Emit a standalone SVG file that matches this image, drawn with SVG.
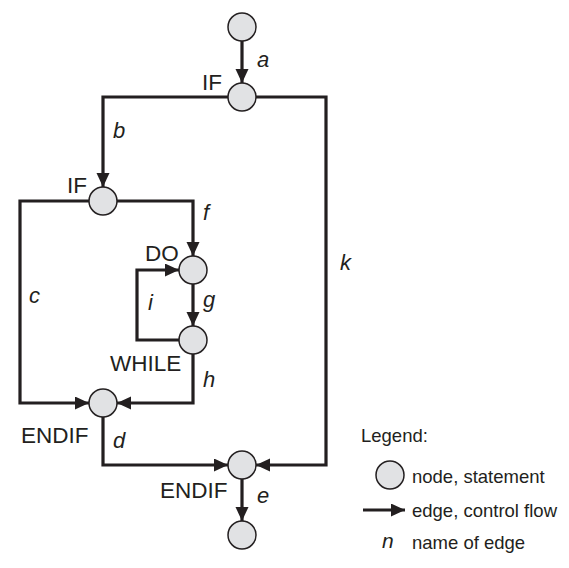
<svg xmlns="http://www.w3.org/2000/svg" width="569" height="568" viewBox="0 0 569 568">
<defs>
<marker id="ah" markerUnits="userSpaceOnUse" markerWidth="14" markerHeight="14" refX="14" refY="6.5" orient="auto">
<path d="M0,0 L14,6.5 L0,13 z" fill="#231f20"/>
</marker>
<style>
.n{fill:#e1e2e4;stroke:#231f20;stroke-width:1.5}
.e{fill:none;stroke:#231f20;stroke-width:3.2;stroke-linejoin:miter;marker-end:url(#ah)}
.t{font-family:"Liberation Sans",Arial,sans-serif;font-size:22.5px;fill:#231f20}
.l{font-family:"Liberation Sans",Arial,sans-serif;font-size:22px;font-style:italic;fill:#231f20}
.g{font-family:"Liberation Sans",Arial,sans-serif;font-size:18.5px;fill:#231f20}
</style>
</defs>
<rect width="569" height="568" fill="#fff"/>
<g id="connectors">
<path class="e" d="M242,41 L242,83"/>
<path class="e" d="M228,97 L103,97 L103,187"/>
<path class="e" d="M256,97 L326,97 L326,465 L256,465"/>
<path class="e" d="M89,201 L20,201 L20,403 L89,403"/>
<path class="e" d="M117,201 L193,201 L193,256"/>
<path class="e" d="M193,284 L193,326"/>
<path class="e" d="M179,340 L137,340 L137,270 L179,270"/>
<path class="e" d="M193,354 L193,403 L117,403"/>
<path class="e" d="M103,417 L103,465 L228,465"/>
<path class="e" d="M242,479 L242,521"/>
</g>
<g id="edge-labels">
<text class="l" x="257" y="67">a</text>
<text class="l" x="113" y="138">b</text>
<text class="l" x="29" y="303">c</text>
<text class="l" x="113" y="448">d</text>
<text class="l" x="257" y="503">e</text>
<text class="l" x="203" y="220">f</text>
<text class="l" x="203" y="307">g</text>
<text class="l" x="203" y="387">h</text>
<text class="l" x="148" y="310">i</text>
<text class="l" x="340" y="270">k</text>
</g>
<g id="node-start"><circle class="n" cx="242" cy="27" r="14"/></g>
<g id="node-if1"><circle class="n" cx="242" cy="97" r="14"/><text class="t" x="202" y="90">IF</text></g>
<g id="node-if2"><circle class="n" cx="103" cy="201" r="14"/><text class="t" x="67" y="193">IF</text></g>
<g id="node-do"><circle class="n" cx="193" cy="270" r="14"/><text class="t" x="145" y="261">DO</text></g>
<g id="node-while"><circle class="n" cx="193" cy="340" r="14"/><text class="t" x="110" y="371">WHILE</text></g>
<g id="node-endif1"><circle class="n" cx="103" cy="403" r="14"/><text class="t" x="21" y="443">ENDIF</text></g>
<g id="node-endif2"><circle class="n" cx="242" cy="465" r="14"/><text class="t" x="160" y="498">ENDIF</text></g>
<g id="node-end"><circle class="n" cx="242" cy="535" r="14"/></g>
<g id="legend">
<text class="g" x="361" y="442">Legend:</text>
<circle class="n" cx="390" cy="475" r="14"/>
<text class="g" x="412" y="483">node, statement</text>
<path class="e" d="M363,510 L405,510"/>
<text class="g" x="412" y="517">edge, control flow</text>
<text class="l" x="382" y="548" style="font-size:21px">n</text>
<text class="g" x="412" y="549">name of edge</text>
</g>
</svg>
